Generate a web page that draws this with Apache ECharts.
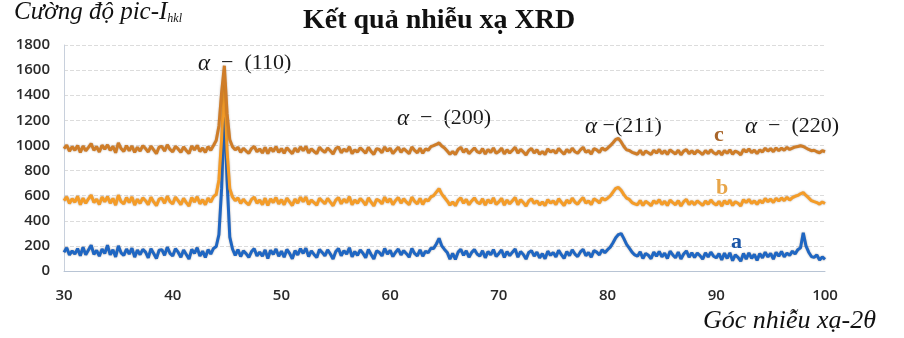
<!DOCTYPE html>
<html><head><meta charset="utf-8">
<script src="https://cdn.jsdelivr.net/npm/echarts@6/dist/echarts.min.js"></script>
<style>html,body{margin:0;padding:0;background:#fff}#c{width:904px;height:338px}</style>
</head><body><div id="c"></div>
<script>
const angles = [
30,30.25,30.5,30.75,31,31.25,31.5,31.75,32,32.25,32.5,32.75,33,33.25,33.5,33.75,34,34.25,34.5,34.75,
35,35.25,35.5,35.75,36,36.25,36.5,36.75,37,37.25,37.5,37.75,38,38.25,38.5,38.75,39,39.25,39.5,39.75,
40,40.25,40.5,40.75,41,41.25,41.5,41.75,42,42.25,42.5,42.75,43,43.25,43.5,43.75,44,44.25,44.5,44.75,
45,45.25,45.5,45.75,46,46.25,46.5,46.75,47,47.25,47.5,47.75,48,48.25,48.5,48.75,49,49.25,49.5,49.75,
50,50.25,50.5,50.75,51,51.25,51.5,51.75,52,52.25,52.5,52.75,53,53.25,53.5,53.75,54,54.25,54.5,54.75,
55,55.25,55.5,55.75,56,56.25,56.5,56.75,57,57.25,57.5,57.75,58,58.25,58.5,58.75,59,59.25,59.5,59.75,
60,60.25,60.5,60.75,61,61.25,61.5,61.75,62,62.25,62.5,62.75,63,63.25,63.5,63.75,64,64.25,64.5,64.75,
65,65.25,65.5,65.75,66,66.25,66.5,66.75,67,67.25,67.5,67.75,68,68.25,68.5,68.75,69,69.25,69.5,69.75,
70,70.25,70.5,70.75,71,71.25,71.5,71.75,72,72.25,72.5,72.75,73,73.25,73.5,73.75,74,74.25,74.5,74.75,
75,75.25,75.5,75.75,76,76.25,76.5,76.75,77,77.25,77.5,77.75,78,78.25,78.5,78.75,79,79.25,79.5,79.75,
80,80.25,80.5,80.75,81,81.25,81.5,81.75,82,82.25,82.5,82.75,83,83.25,83.5,83.75,84,84.25,84.5,84.75,
85,85.25,85.5,85.75,86,86.25,86.5,86.75,87,87.25,87.5,87.75,88,88.25,88.5,88.75,89,89.25,89.5,89.75,
90,90.25,90.5,90.75,91,91.25,91.5,91.75,92,92.25,92.5,92.75,93,93.25,93.5,93.75,94,94.25,94.5,94.75,
95,95.25,95.5,95.75,96,96.25,96.5,96.75,97,97.25,97.5,97.75,98,98.25,98.5,98.75,99,99.25,99.5,99.75,
100];

const seriesA = [
150,185,128,160, 135,178,122,190, 130,168,205,132, 165,118,175,140, 205,128,170,112,
200,145,125,175, 135,182,110,168, 130,172,150,105, 178,140,100,165, 170,125,190,140,
120,178,150,110, 168,132,95,172, 140,185,120,158, 108,170,135,180, 195,290,660,1290,
720,270,175,125, 170,115,160,138, 108,155,178,120, 150,118,168,100, 165,132,175,118,
158,110,172,140, 98,162,128,178, 140,182,115,160, 132,108,172,148, 120,168,135,95,
155,178,122,162, 135,185,112,155, 125,168,142,105, 172,132,95,160, 148,120,180,135,
165,115,150,175, 128,162,138,110, 180,140,120,168, 118,158,145,182, 180,215,260,200,
172,148,95,140, 92,150,172,125, 160,110,148,170, 135,118,162,105, 155,128,170,115,
140,168,108,155, 122,150,175,110, 155,132,95,148, 162,118,150,105, 138,98,158,125,
148,112,165,130, 100,155,122,168, 135,115,152,172, 122,148,110,162, 150,128,170,145,
170,190,225,265, 290,298,258,212, 182,150,128,118, 152,100,140,125, 98,150,118,155,
112,142,100,158, 128,105,150,95, 135,160,110,145, 108,142,122,95, 145,112,150,118,
105,138,88,142, 100,145,82,128, 108,78,140,95, 145,100,132,85, 138,105,150,112,
140,95,148,118, 155,112,142,125, 158,135,170,185, 305,200,150,115, 108,128,88,112,
92];

const seriesB = [
560,590,538,575, 548,595,528,580, 540,575,605,545, 572,530,590,552, 592,540,578,525,
605,552,535,585, 545,590,525,572, 538,582,560,528, 588,550,520,572, 580,540,595,552,
535,588,560,528, 578,545,518,585, 550,592,535,568, 528,580,548,592, 610,725,1055,1505,
955,655,590,560, 582,538,572,545, 528,570,588,540, 565,528,580,522, 575,545,585,535,
568,528,580,550, 522,572,540,588, 552,590,530,565, 545,525,580,558, 535,578,548,520,
565,585,535,572, 545,592,528,565, 540,578,555,525, 582,548,518,570, 560,535,588,548,
575,528,562,585, 540,575,548,528, 588,555,535,578, 530,570,558,590, 600,628,655,612,
585,558,525,550, 520,562,582,540, 570,528,558,582, 548,535,575,525, 568,540,582,530,
550,578,525,565, 535,560,585,528, 568,545,518,558, 575,538,560,525, 550,520,568,542,
558,528,575,548, 522,565,540,580, 548,532,562,585, 540,558,528,575, 562,542,582,565,
580,598,628,658, 665,642,608,580, 570,545,535,528, 562,522,555,540, 520,560,538,568,
530,555,522,565, 545,528,560,518, 552,570,530,555, 528,558,540,522, 558,532,565,540,
525,555,518,560, 532,565,522,552, 540,518,568,545, 570,538,558,530, 562,542,578,552,
572,545,580,558, 582,560,588,565, 585,595,602,615, 625,602,582,560, 552,545,532,550,
538];

const seriesC = [
975,1002,955,990, 962,1000,945,995, 958,985,1015,962, 990,948,1002,970, 1005,960,992,942,
1020,975,952,998, 958,995,945,985, 955,998,975,948, 995,965,935,988, 992,955,1005,968,
950,992,972,945, 988,960,935,995, 965,1000,952,980, 945,990,962,1000, 1040,1155,1425,1635,
1255,1045,990,965, 985,945,978,955, 938,975,992,950, 972,940,985,935, 980,952,990,945,
975,938,982,958, 935,978,948,988, 958,992,940,972, 952,935,985,962, 945,980,958,932,
975,988,942,970, 952,990,935,965, 948,980,960,938, 985,952,928,975, 968,942,988,955,
978,935,962,985, 945,975,955,935, 988,960,942,978, 938,972,962,990, 998,1008,1020,995,
980,955,930,952, 928,968,985,945, 972,935,958,980, 950,940,975,932, 968,945,980,938,
952,978,932,965, 940,962,985,938, 968,948,925,960, 975,940,965,930, 952,928,972,948,
962,938,975,952, 930,968,945,978, 950,938,965,985, 945,960,932,975, 965,945,980,962,
978,998,1022,1048, 1055,1028,992,965, 960,945,938,930, 962,925,955,942, 928,962,940,968,
935,958,928,965, 948,932,962,925, 955,968,935,958, 932,960,945,928, 960,935,965,942,
930,955,925,960, 938,965,930,955, 945,925,968,948, 972,942,962,935, 965,948,978,955,
975,950,980,958, 978,962,985,968, 978,988,992,998, 992,980,968,958, 962,950,942,958,
950];

const xTicks = [30,40,50,60,70,80,90,100];
const yTicks = [0,200,400,600,800,1000,1200,1400,1600,1800];
const seriesNames = ['a','b','c'];
const peakLabels = ['  −  (110)','  −  (200)',' −(211)','  −  (220)'];

const pair = ys => angles.map((x,i)=>[x, ys[i]]);
const chart = echarts.init(document.getElementById('c'));
const serif = '"Liberation Serif","DejaVu Serif",serif';
const peakStyle = t => ({text:'{i|α}{n|' + t + '}',
  rich:{i:{fontFamily:serif, fontStyle:'italic', fontSize:23, fill:'#1a1a1a'},
        n:{fontFamily:serif, fontSize:22, fill:'#1a1a1a'}}});
const lineSt = c => ({color:c, width:3, shadowColor:'rgba(60,30,0,0.35)', shadowBlur:2});
chart.setOption({
  backgroundColor:'#fff',
  animation:false,
  title:{text:'Kết quả nhiễu xạ XRD', left:298, top:2,
    textStyle:{fontFamily:serif, fontWeight:'bold', fontSize:28, color:'#111'}},
  grid:{left:64, right:79, top:45, bottom:67},
  xAxis:{type:'value', min:xTicks[0], max:xTicks[xTicks.length-1], interval:10,
    axisLine:{show:true, lineStyle:{color:'#b8c4d4'}}, axisTick:{show:false},
    splitLine:{show:false},
    axisLabel:{margin:17, fontFamily:'"Open Sans",sans-serif', fontSize:15, fontWeight:600, color:'#2a2a2a'}},
  yAxis:{type:'value', min:yTicks[0], max:yTicks[yTicks.length-1], interval:200,
    axisLine:{show:true, lineStyle:{color:'#c8d0dc'}}, axisTick:{show:false},
    splitLine:{show:true, lineStyle:{color:'#dcdcdc', type:'dashed'}},
    axisLabel:{margin:14, fontFamily:'"Open Sans",sans-serif', fontSize:15, fontWeight:600, color:'#2a2a2a',
      formatter:v=>String(v)}},
  series:[
    {name:seriesNames[0], type:'line', data:pair(seriesA), showSymbol:false, z:3,
      lineStyle:lineSt('#1f66c2')},
    {name:seriesNames[1], type:'line', data:pair(seriesB), showSymbol:false, z:4,
      lineStyle:lineSt('#f49c28')},
    {name:seriesNames[2], type:'line', data:pair(seriesC), showSymbol:false, z:5,
      lineStyle:lineSt('#cf7d28')}
  ],
  graphic:[
    {type:'text', left:14, top:0, style:{
      text:'{m|Cường độ pic-I}{s|hkl}',
      rich:{m:{fontFamily:serif, fontStyle:'italic', fontSize:25, fill:'#111'},
            s:{fontFamily:serif, fontStyle:'italic', fontSize:12, fill:'#111', padding:[13,0,0,0]}}}},
    {type:'text', left:703, top:308, style:{text:'Góc nhiễu xạ-2θ', fontFamily:serif, fontStyle:'italic', fontSize:26, fill:'#111'}},
    {type:'text', left:198, top:52, style:peakStyle(peakLabels[0])},
    {type:'text', left:397, top:107, style:peakStyle(peakLabels[1])},
    {type:'text', left:585, top:115, style:peakStyle(peakLabels[2])},
    {type:'text', left:745, top:115, style:peakStyle(peakLabels[3])},
    {type:'text', left:714, top:124, z:10, style:{text:seriesNames[2], fontFamily:serif, fontWeight:'bold', fontSize:22, fill:'#a8652a'}},
    {type:'text', left:716, top:177, z:10, style:{text:seriesNames[1], fontFamily:serif, fontWeight:'bold', fontSize:22, fill:'#e8a548'}},
    {type:'text', left:731, top:231, z:10, style:{text:seriesNames[0], fontFamily:serif, fontWeight:'bold', fontSize:22, fill:'#1a55a6'}}
  ]
});
</script></body></html>
